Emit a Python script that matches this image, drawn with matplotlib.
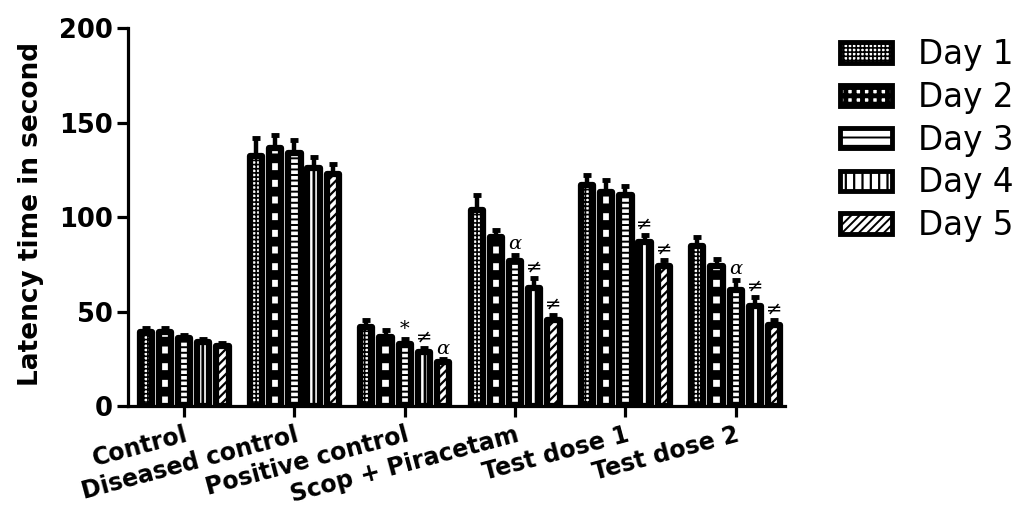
import numpy as np
import matplotlib
matplotlib.use("Agg")
import matplotlib.pyplot as plt
from matplotlib.patches import Patch

# Groups and days
groups = ["Control", "Diseased control", "Positive control",
          "Scop + Piracetam", "Test dose 1", "Test dose 2"]
days = ["Day 1", "Day 2", "Day 3", "Day 4", "Day 5"]

# Mean latency (s) per group for each day
day1 = [39.0, 132.5, 42.0, 103.8, 117.0, 84.6]
day2 = [39.0, 136.5, 36.7, 89.5, 113.3, 74.3]
day3 = [36.0, 134.0, 33.0, 76.8, 111.7, 61.6]
day4 = [34.0, 126.0, 28.6, 62.5, 86.9, 52.8]
day5 = [31.5, 122.5, 23.3, 45.6, 74.2, 42.6]

# SEM per group for each day
sem1 = [2.5, 9.5, 3.6, 7.9, 5.3, 4.9]
sem2 = [2.5, 7.0, 3.6, 3.7, 6.3, 3.7]
sem3 = [1.5, 6.8, 2.5, 3.2, 4.8, 5.3]
sem4 = [1.5, 5.8, 2.1, 5.3, 3.6, 4.9]
sem5 = [2.0, 5.5, 1.6, 2.4, 3.1, 2.8]

# Significance marks: (group index, day index, symbol)
marks = [
    (2, 2, "*"), (2, 3, "≠"), (2, 4, "α"),
    (3, 2, "α"), (3, 3, "≠"), (3, 4, "≠"),
    (4, 3, "≠"), (4, 4, "≠"),
    (5, 2, "α"), (5, 3, "≠"), (5, 4, "≠"),
]

means = [day1, day2, day3, day4, day5]
sems = [sem1, sem2, sem3, sem4, sem5]
hatches = ["++++", "-", "---", "|||", "////"]
hatch_lw = [1.2, 7.0, 1.4, 2.0, 1.6]
legend_hatches = ["++++", "++", "--", "||", "////"]
legend_hatch_lw = [1.2, 3.5, 1.4, 1.6, 1.4]

plt.rcParams["font.family"] = ["DejaVu Sans"]

fig = plt.figure(figsize=(10.16, 5.08), dpi=100)
ax = fig.add_axes([0.126, 0.2008, 0.647, 0.744])

x = np.arange(len(groups))
pitch = 0.174
width = 0.111

for i in range(len(days)):
    pos = x + (i - 2) * pitch
    bars = ax.bar(pos, means[i], width=width, facecolor="white",
                  edgecolor="black", linewidth=4.5, hatch=hatches[i],
                  joinstyle="round", zorder=2)
    for b in bars:
        if hasattr(b, "set_hatch_linewidth"):
            b.set_hatch_linewidth(hatch_lw[i])
    ax.errorbar(pos, means[i], yerr=[np.zeros(len(groups)), sems[i]],
                fmt="none", ecolor="black", elinewidth=3.2, capsize=3,
                capthick=3.5, zorder=3)

for g, d, sym in marks:
    xp = x[g] + (d - 2) * pitch
    yp = means[d][g] + sems[d][g]
    style = "italic" if sym == "α" else "normal"
    ax.annotate(sym, (xp, yp), xytext=(0, 1), textcoords="offset points",
                ha="center", va="bottom", fontsize=14,
                family="DejaVu Serif", fontstyle=style, zorder=4)

ax.set_xlim(-0.508, 5.45)
ax.set_ylim(0, 200)
ax.set_yticks([0, 50, 100, 150, 200])

for side in ("top", "right"):
    ax.spines[side].set_visible(False)
for side in ("left", "bottom"):
    ax.spines[side].set_linewidth(2.3)

ax.tick_params(axis="both", direction="out", length=8, width=2.3)
ax.tick_params(axis="y", pad=3, labelsize=18.5)
ax.tick_params(axis="x", pad=4)
for lab in ax.get_yticklabels():
    lab.set_fontweight("bold")

ax.set_xticks(x)
ax.set_xticklabels(groups, rotation=15, ha="right", va="top",
                   rotation_mode="anchor", fontsize=17, fontweight="bold")

ax.set_ylabel("Latency time in second", fontsize=19, fontweight="bold")
ax.yaxis.set_label_coords(-0.128, 0.509)

handles = [Patch(facecolor="white", edgecolor="black", hatch=h,
                 linewidth=3.5, joinstyle="round", label=d)
           for h, d in zip(legend_hatches, days)]
leg = fig.legend(handles=handles, loc="upper left",
                 bbox_to_anchor=(840 / 1016, 1 - 38 / 508),
                 frameon=False, fontsize=23.5, handlelength=1.6,
                 handleheight=0.6, handletextpad=0.8, labelspacing=0.3,
                 borderpad=0, borderaxespad=0)
for p, w in zip(leg.get_patches(), legend_hatch_lw):
    if hasattr(p, "set_hatch_linewidth"):
        p.set_hatch_linewidth(w)

fig.savefig("out.png", dpi=100)
